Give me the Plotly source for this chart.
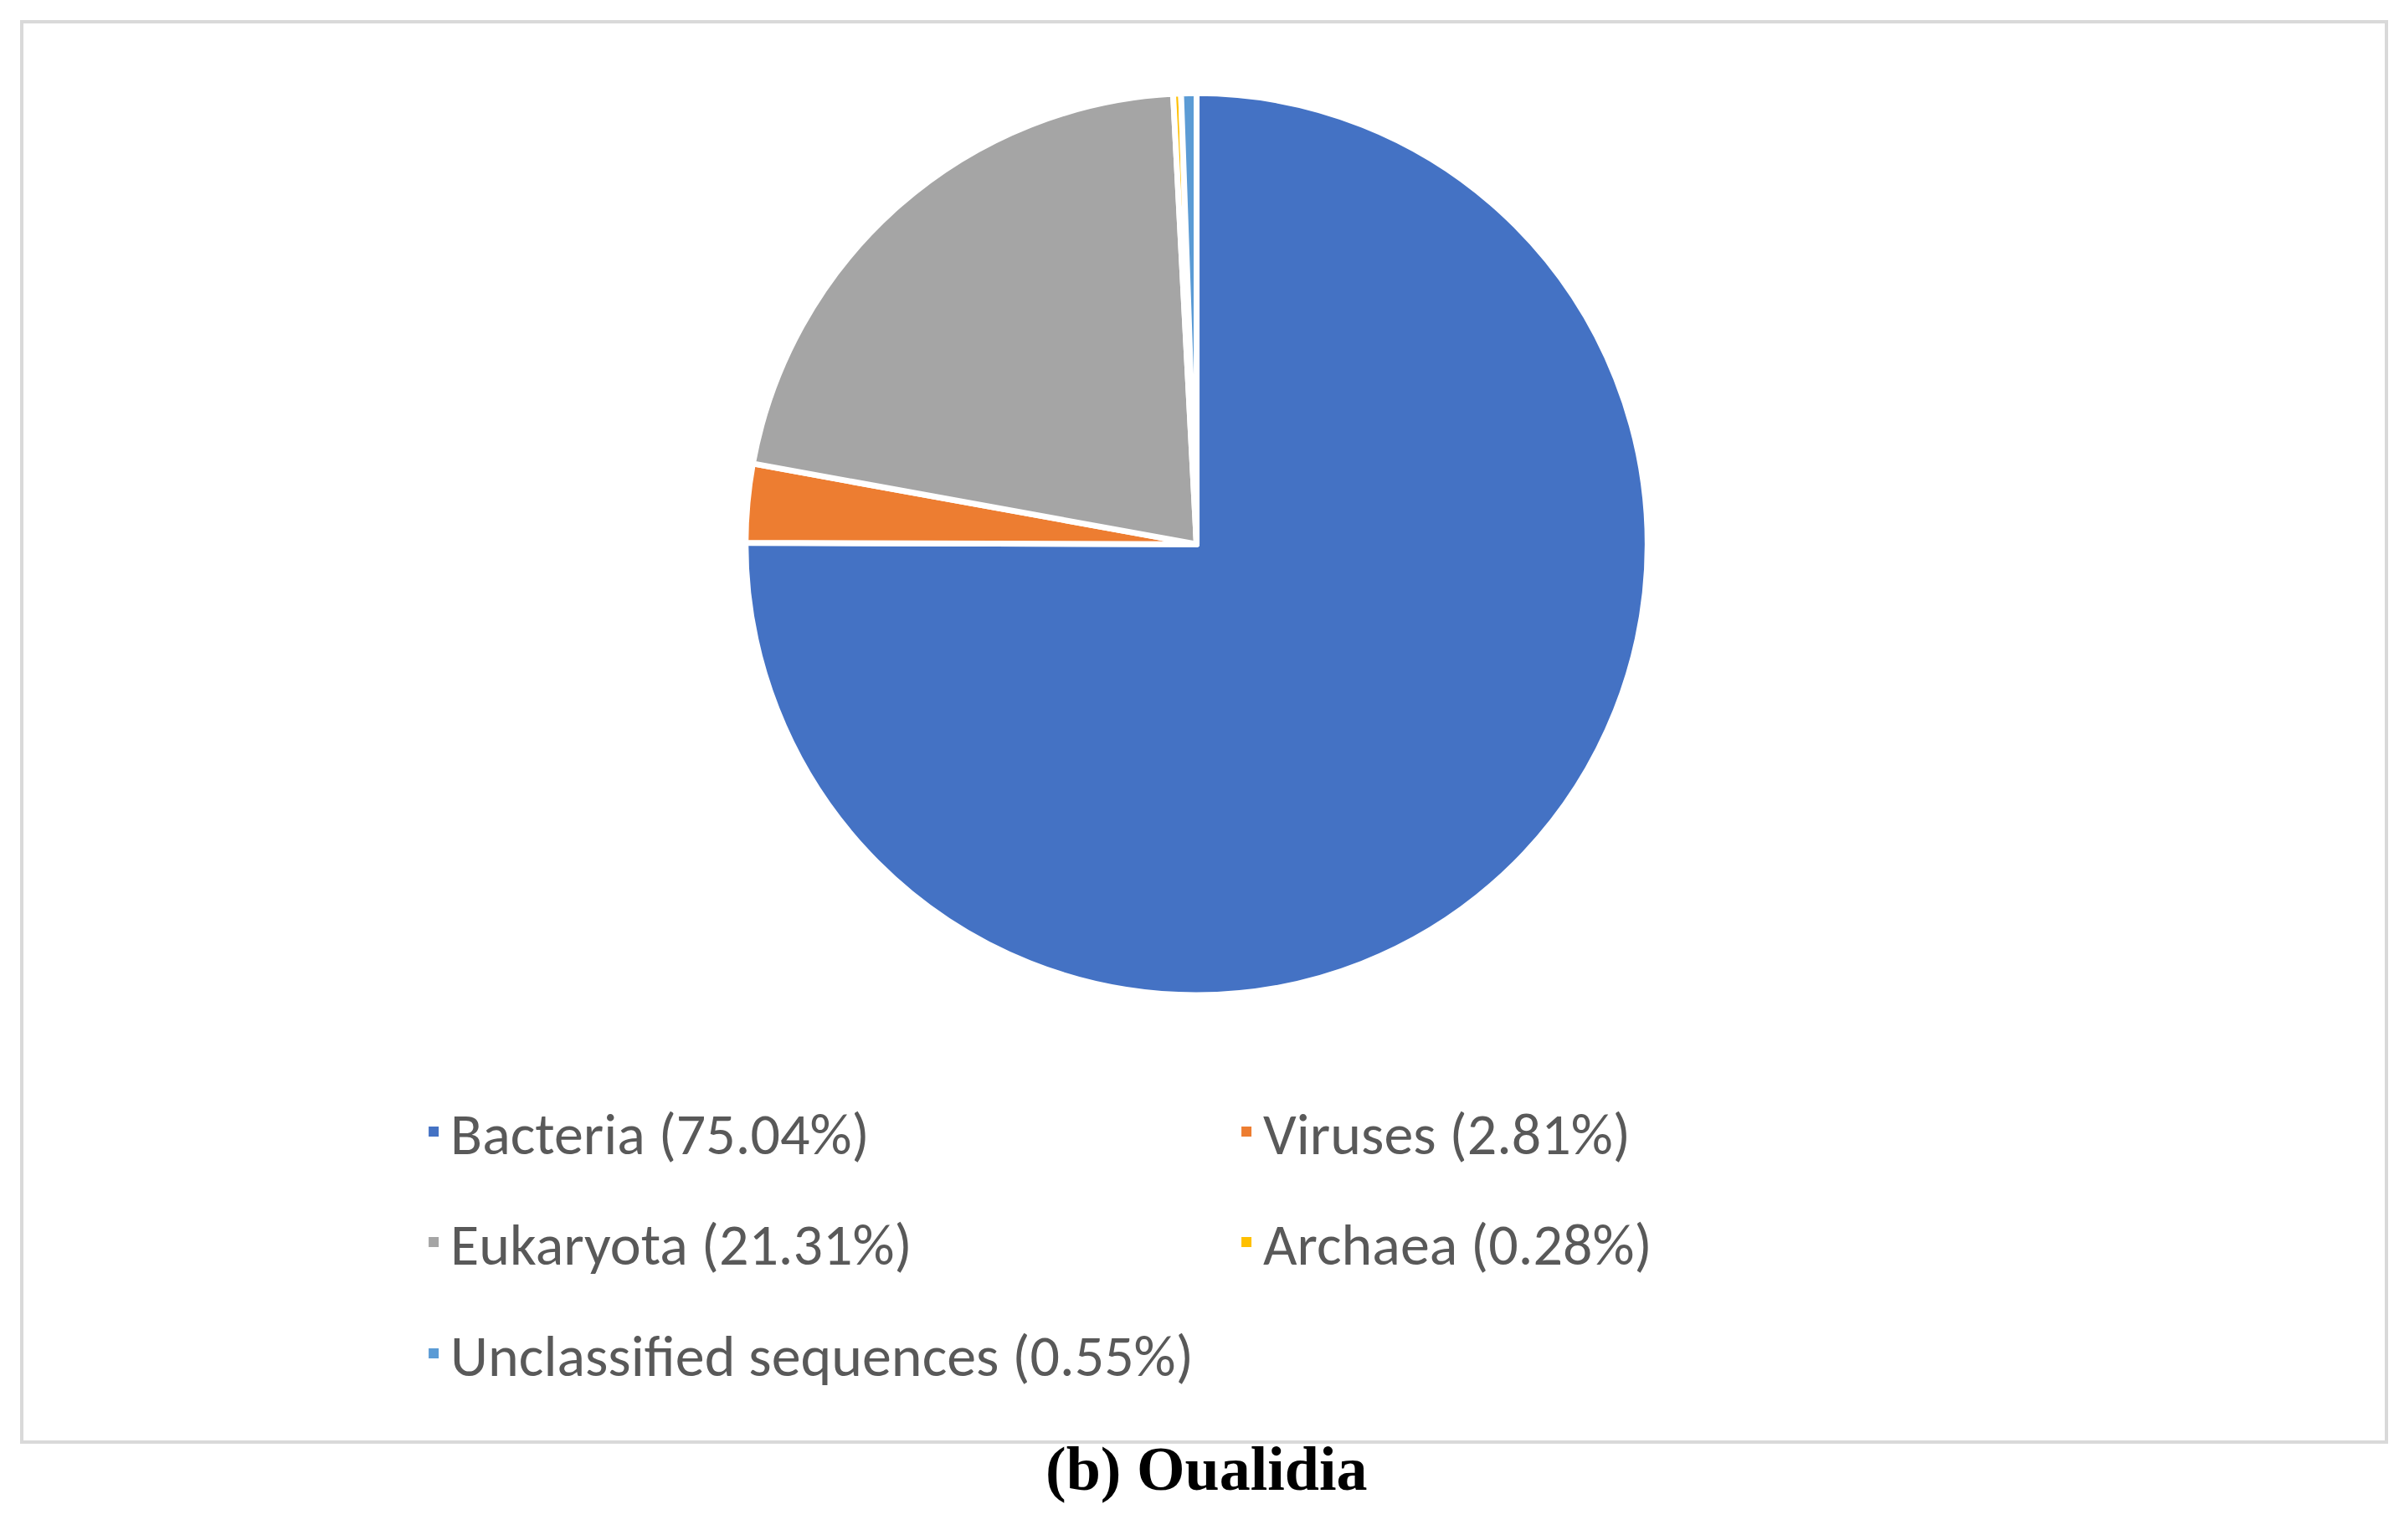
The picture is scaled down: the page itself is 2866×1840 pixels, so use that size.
import plotly.graph_objects as go

labels = ["Bacteria (75.04%)", "Viruses (2.81%)", "Eukaryota (21.31%)", "Archaea (0.28%)", "Unclassified sequences (0.55%)"]
values = [75.04, 2.81, 21.31, 0.28, 0.55]
colors = ["#4472C4", "#ED7D31", "#A5A5A5", "#FFC000", "#5B9BD5"]
legend_rows = ["legend", "legend", "legend2", "legend2", "legend3"]

fig = go.Figure(go.Pie(
    labels=labels, values=values, sort=False, direction="clockwise", rotation=0,
    marker=dict(colors=colors, line=dict(color="white", width=7)),
    textinfo="none", hoverinfo="label", showlegend=False,
    domain=dict(x=[0.308, 0.684], y=[0.358, 0.944]),
))
for lab, col, lg in zip(labels, colors, legend_rows):
    fig.add_trace(go.Scatter(x=[None], y=[None], mode="markers", name=lab, legend=lg,
                             marker=dict(symbol="square", size=22, color=col), hoverinfo="skip"))

lfont = dict(family="Calibri, Carlito, Lato, sans-serif", size=70, color="#595959")
def leg(y):
    return dict(orientation="h", x=0.171, xanchor="left", y=y, yanchor="middle",
                entrywidth=926, entrywidthmode="pixels", font=lfont, itemsizing="constant",
                bgcolor="rgba(0,0,0,0)")

fig.update_layout(
    width=2866, height=1840, margin=dict(l=0, r=0, t=0, b=0),
    paper_bgcolor="white", plot_bgcolor="white",
    xaxis=dict(visible=False), yaxis=dict(visible=False),
    legend=leg(1 - 1344/1840), legend2=leg(1 - 1476/1840), legend3=leg(1 - 1609/1840),
    shapes=[dict(type="rect", xref="paper", yref="paper", x0=18/2866, x1=2843/2866,
                 y0=1-1715/1840, y1=1-18/1840, line=dict(color="#D9D9D9", width=4))],
    annotations=[dict(text="<b>(b) Oualidia</b>", xref="paper", yref="paper", x=0.5, y=1-1790/1840,
                      showarrow=False, font=dict(family="Liberation Serif", size=74, color="black"))],
)
fig.write_html("out.html")
